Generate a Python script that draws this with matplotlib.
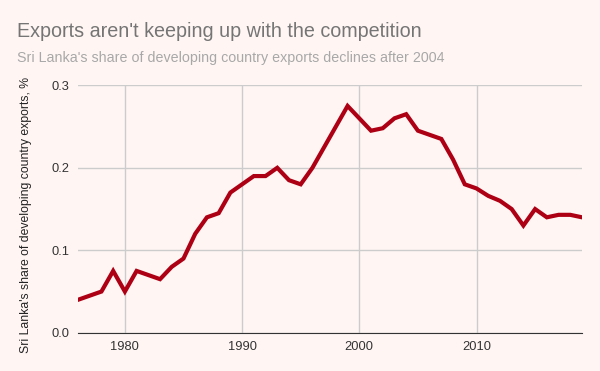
import matplotlib.pyplot as plt

years = list(range(1976, 2020))
share = [0.040, 0.045, 0.050, 0.075, 0.050, 0.075, 0.070, 0.065, 0.080, 0.090,
         0.120, 0.140, 0.145, 0.170, 0.180, 0.190, 0.190, 0.200, 0.185, 0.180,
         0.200, 0.225, 0.250, 0.275, 0.260, 0.245, 0.248, 0.260, 0.265, 0.245,
         0.240, 0.235, 0.210, 0.180, 0.175, 0.166, 0.160, 0.150, 0.130, 0.150,
         0.140, 0.143, 0.143, 0.140]
yticks = [0.0, 0.1, 0.2, 0.3]
xticks = [1980, 1990, 2000, 2010]

bg = "#fff6f4"
plt.rcParams["font.family"] = ["Liberation Sans", "DejaVu Sans"]

fig = plt.figure(figsize=(6, 3.71), dpi=100, facecolor=bg)
ax = fig.add_axes([0.13, 0.103, 0.84, 0.667], facecolor=bg)

ax.plot(years, share, color="#ad0014", lw=3, solid_joinstyle="miter", zorder=3)

ax.set_xlim(1976, 2019)
ax.set_ylim(0, 0.3)
ax.set_yticks(yticks)
ax.set_yticklabels(["%.1f" % v for v in yticks])
ax.set_xticks(xticks)
ax.grid(True, color="#cccccc", lw=1)
ax.set_axisbelow(True)
for s in ["top", "right", "left"]:
    ax.spines[s].set_visible(False)
ax.spines["bottom"].set_color("#333333")
ax.tick_params(length=0, labelsize=9.3, colors="#333333", pad=6)

ax.set_ylabel("Sri Lanka's share of developing country exports, %",
              fontsize=8.8, color="#222222")
ax.yaxis.set_label_coords(-0.091, 0.476)

fig.text(0.028, 0.915, "Exports aren't keeping up with the competition",
         fontsize=14.2, color="#757575", va="center")
fig.text(0.028, 0.843, "Sri Lanka's share of developing country exports declines after 2004",
         fontsize=10.3, color="#a8a8a8", va="center")

fig.savefig("out.png", dpi=100, facecolor=bg)
